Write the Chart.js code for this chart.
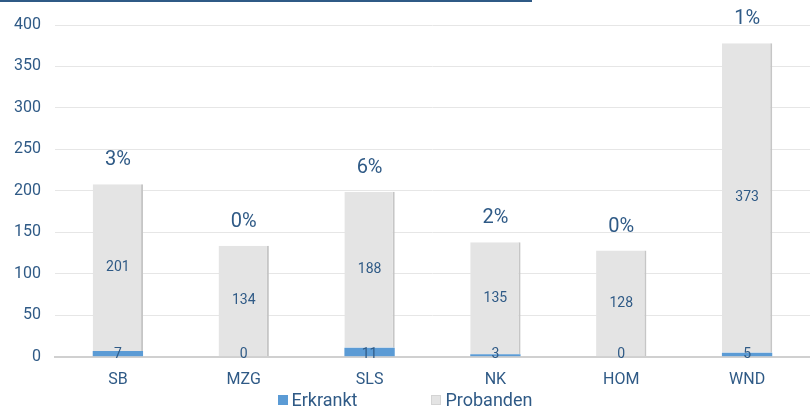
<!DOCTYPE html>
<html>
<head>
<meta charset="utf-8">
<script src="https://cdn.jsdelivr.net/npm/chart.js@4.4.0/dist/chart.umd.min.js"></script>
<style>
  html, body { margin: 0; padding: 0; background: #fff; }
  #wrap { position: relative; width: 810px; height: 412px; font-family: 'Liberation Sans Narrow', 'Roboto', sans-serif; }
  #topline { position: absolute; left: 0; top: 0; width: 532px; height: 2px; background: #2f5a86; }
  #legend { position: absolute; top: 389px; left: 0; width: 810px; text-align: center; font-size: 18px; color: #2f5a86; line-height: 22px; }
  .item { display: inline-block; margin: 0 37px; }
  .sw { display: inline-block; width: 10px; height: 10px; margin-right: 4px; vertical-align: 1px; box-sizing: border-box; }
</style>
</head>
<body>
<div id="wrap">
  <div id="topline"></div>
  <canvas id="c" width="810" height="412"></canvas>
  <div id="legend"></div>
</div>
<script>
// data
const categories = ['SB', 'MZG', 'SLS', 'NK', 'HOM', 'WND'];
const erkrankt = [7, 0, 11, 3, 0, 5];
const probanden = [201, 134, 188, 135, 128, 373];
const percentLabels = ['3%', '0%', '6%', '2%', '0%', '1%'];

const TEXT = '#2f5a86';
const FONT = "'Liberation Sans Narrow', 'Roboto', sans-serif";

// value labels + percentages on top of each stack
const labelPlugin = {
  id: 'labels',
  afterDatasetsDraw(chart) {
    const ctx = chart.ctx;
    const metaE = chart.getDatasetMeta(0);
    const metaP = chart.getDatasetMeta(1);
    ctx.save();
    ctx.fillStyle = TEXT;
    ctx.textAlign = 'center';
    ctx.textBaseline = 'middle';
    metaP.data.forEach((bar, i) => {
      ctx.font = '14px ' + FONT;
      ctx.fillText(String(probanden[i]), bar.x, (bar.y + bar.base) / 2);
      const eb = metaE.data[i];
      ctx.fillText(String(erkrankt[i]), eb.x, chart.scales.y.getPixelForValue(0) - 2);
      ctx.font = '20px ' + FONT;
      ctx.fillText(percentLabels[i], bar.x, bar.y - 24);
    });
    ctx.restore();
  }
};

const chart = new Chart(document.getElementById('c'), {
  type: 'bar',
  data: {
    labels: categories,
    datasets: [
      { label: 'Erkrankt', data: erkrankt, backgroundColor: '#5b9bd5', borderColor: '#5b9bd5', borderWidth: 0, categoryPercentage: 1, barPercentage: 0.4 },
      { label: 'Probanden', data: probanden, backgroundColor: '#e4e4e4', borderColor: '#c6c6c6', borderWidth: { right: 2, left: 0, top: 0, bottom: 0 }, borderSkipped: false, categoryPercentage: 1, barPercentage: 0.4 }
    ]
  },
  options: {
    responsive: false,
    animation: false,
    layout: { padding: { top: 25, right: 0, left: 0, bottom: 16 } },
    plugins: {
      tooltip: { enabled: false },
      legend: { display: false }
    },
    scales: {
      x: {
        stacked: true,
        grid: { display: false },
        border: { color: '#d0d0d0', width: 2 },
        ticks: { color: TEXT, font: { family: FONT, size: 16 }, padding: 6 }
      },
      y: {
        stacked: true,
        min: 0, max: 400,
        ticks: { stepSize: 50, color: TEXT, font: { family: FONT, size: 16 }, padding: 14 },
        grid: { color: '#e6e6e6', drawTicks: false },
        border: { display: false }
      }
    }
  },
  plugins: [labelPlugin]
});

// html legend from the datasets
document.getElementById('legend').innerHTML = chart.data.datasets.map(ds =>
  '<span class="item"><span class="sw" style="background:' + ds.backgroundColor +
  ';border:1px solid ' + (ds.label === 'Probanden' ? '#d4d4d4' : ds.backgroundColor) + '"></span>' + ds.label + '</span>'
).join('');
</script>
</body>
</html>
